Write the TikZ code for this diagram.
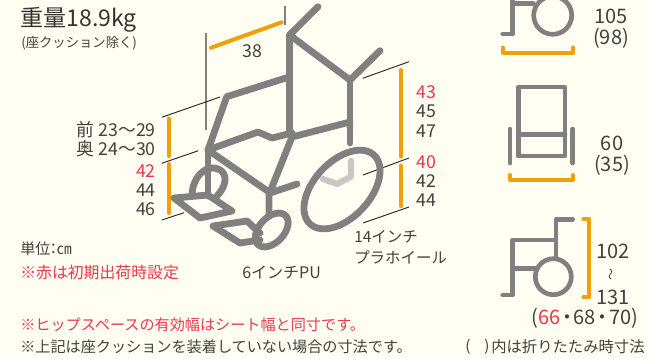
\documentclass[tikz,border=0pt]{standalone}
\usepackage{fontspec}
\setmainfont{Noto Sans CJK JP}
\definecolor{bgc}{HTML}{FFFEF2}
\definecolor{fr}{HTML}{808080}
\definecolor{org}{HTML}{F2A007}
\definecolor{redt}{HTML}{E8384F}
\definecolor{txc}{HTML}{404040}
\tikzset{
  frame/.style={draw=fr,line width=5.1pt,line cap=round,line join=round},
  thinframe/.style={draw=fr,line width=3.5pt,line cap=round,line join=round},
  light/.style={draw=black!22,line width=4.6pt,line cap=round,line join=round},
  orangebar/.style={draw=org,line width=3pt,line cap=round,line join=round},
  leader/.style={draw=black!85,line width=0.7pt},
  tick/.style={draw=fr,line width=1pt},
  lab/.style={inner sep=0pt,text=txc,font=\fontsize{13.3pt}{15pt}\selectfont},
  jlab/.style={inner sep=0pt,text=txc,anchor=west,font=\fontsize{11.6pt}{13pt}\selectfont},
  note/.style={inner sep=0pt,text=txc,anchor=west,font=\fontsize{11.35pt}{13pt}\selectfont},
  rednote/.style={note,text=redt},
  bignum/.style={lab,font=\fontsize{15pt}{17pt}\selectfont},
}
\newcommand{\nakaguro}{\kern-0.16em・\kern-0.16em}
\begin{document}
\begin{tikzpicture}[x=0.75pt,y=-0.75pt]
\useasboundingbox (0,0) rectangle (648,358);
\fill[bgc] (0,0) rectangle (648,358);
\clip (0,0) rectangle (648,358);
% ticks and leaders
\draw[tick] (206,33) -- (206,130);
\draw[tick] (285,6) -- (285,25);
\draw[leader] (161.7,117.3) -- (220,97);
\draw[leader] (161.7,163.3) -- (198.3,150.7);
\draw[leader] (161.7,220) -- (184,212.7);
\draw[leader] (362.7,78.3) -- (409,61.7);
\draw[leader] (363,175) -- (409,158);
\draw[leader] (363,223) -- (409,207);
% orange dimensions
\draw[orangebar] (211,47.7) -- (281.7,22.3);
\draw[orangebar] (169.3,118.5) -- (169.3,156);
\draw[orangebar] (169.3,164) -- (169.3,213);
\draw[orangebar] (400.7,70) -- (400.7,156.5);
\draw[orangebar] (400.7,165.5) -- (400.7,206);
% chair frame
\draw[light] (351,160.7) -- (351,176.7) -- (337,184) -- (323,179);
\draw[frame] (318,6.7) -- (289.5,35) -- (350,80) -- (380,50.7);
\draw[frame] (289.5,35) -- (289.5,133);
\draw[frame] (350,80) -- (350,143);
\draw[frame] (289,77) -- (226.7,96.7) -- (208,150);
\draw[frame] (208,150) -- (258,132) -- (272,138) -- (292,133);
\draw[frame] (292,137) -- (350,122);
\draw[frame] (292,137) -- (270,192);
\draw[frame] (208,150) -- (269,192) -- (269,215);
\draw[frame] (270,193) -- (297,184);
\draw[frame] (208,150) -- (208,196);
\draw[frame] (192,196) .. controls (192,178) and (204,167) .. (214,168) .. controls (226,169) and (230,182) .. (217,196);
\draw[frame] (232,211) -- (208,195) -- (174,198) -- (200,218) -- (232,211);
\draw[frame] (260,233) -- (247,221) -- (213,226) -- (240,243) -- (260,240);
\draw[frame,rotate around={47:(271.7,230)}] (271.7,230) ellipse (20 and 12.5);
\draw[frame,rotate around={47:(342,189.5)}] (342,189.5) ellipse (47 and 28);
% side view
\draw[thinframe] (502.7,34) -- (512.7,34) -- (512.7,-3);
\draw[thinframe] (512.7,3.3) -- (533,3.3);
\draw[thinframe] (552.7,15.3) circle (19);
\draw[orangebar] (502.7,47.5) -- (502.7,52.5) -- (572.7,52.5) -- (572.7,47.5);
% front view
\draw[thinframe] (518.3,87) rectangle (565,156);
\draw[thinframe] (518.3,134.3) -- (565,134.3);
\draw[thinframe] (510,129) -- (510,163);
\draw[thinframe] (572.7,129) -- (572.7,163);
\draw[orangebar] (510,175) -- (510,179.5) -- (572.7,179.5) -- (572.7,175);
% side view, height
\draw[thinframe] (572.7,219.3) -- (556,219.3) -- (556,258);
\draw[thinframe] (556,240) -- (512.7,240) -- (512.7,295) -- (502.7,295);
\draw[thinframe] (512.7,268.3) -- (535,268.3);
\draw[thinframe] (553.3,276.7) circle (18);
\draw[orangebar] (583.3,219.3) -- (589.3,219.3) -- (589.3,297.3) -- (583.3,297.3);
% texts
\node[inner sep=0pt,anchor=west,text=black!80,font=\fontsize{17.3pt}{20pt}\selectfont] (weight) at (20,20) {重量18.9kg};
\node[inner sep=0pt,anchor=west,text=txc,font=\fontsize{10pt}{12pt}\selectfont] (excl) at (21,43) {(座クッション除く)};
\node[lab,anchor=east] (front) at (156,130) {前 23～29};
\node[lab,anchor=east] (rear) at (156,149) {奥 24～30};
\node[lab,anchor=east,text=redt] (la) at (156,171) {42};
\node[lab,anchor=east] (lb) at (156,190) {44};
\node[lab,anchor=east] (lc) at (156,209) {46};
\node[lab] (w) at (252,51) {38};
\node[lab,anchor=west,text=redt] (ra) at (416,92) {43};
\node[lab,anchor=west] (rb) at (416,111) {45};
\node[lab,anchor=west] (rc) at (416,131) {47};
\node[lab,anchor=west,text=redt] (rd) at (416,162) {40};
\node[lab,anchor=west] (re) at (416,181) {42};
\node[lab,anchor=west] (rf) at (416,200) {44};
\node[jlab] (whl) at (354,237) {14インチ};
\node[jlab] (whm) at (354,257) {プラホイール};
\node[jlab,font=\fontsize{12pt}{13pt}\selectfont] (cas) at (242,273) {6インチPU};
\node[note] (unit) at (20,249) {単位\kern-0.3em：\kern-0.3em㎝};
\node[rednote,font=\fontsize{11.9pt}{13pt}\selectfont] (n1) at (20,273) {※赤は初期出荷時設定};
\node[rednote] (n2) at (20,325) {※ヒップスペースの有効幅はシート幅と同寸です。};
\node[note] (n3) at (20,347) {※上記は座クッションを装着していない場合の寸法です。};
\node[note] (pa) at (465,347) {(};
\node[note] (pb) at (484,347) {)};
\node[note,font=\fontsize{11.5pt}{13pt}\selectfont] (n4) at (491,347) {内は折りたたみ時寸法};
\node[bignum] (da) at (611,16) {105};
\node[bignum] (db) at (611,38) {(98)};
\node[bignum] (dc) at (612,143) {60};
\node[bignum] (dd) at (612,165) {(35)};
\node[bignum,anchor=west] (de) at (596,251) {102};
\node[bignum,rotate=90,font=\fontsize{9pt}{10pt}\selectfont] (df) at (612,274) {～};
\node[bignum,anchor=west] (dg) at (596,297) {131};
\node[bignum,anchor=west] (dh) at (531,318) {(\textcolor{redt}{66}\nakaguro 68\nakaguro 70)};
\end{tikzpicture}
\end{document}
